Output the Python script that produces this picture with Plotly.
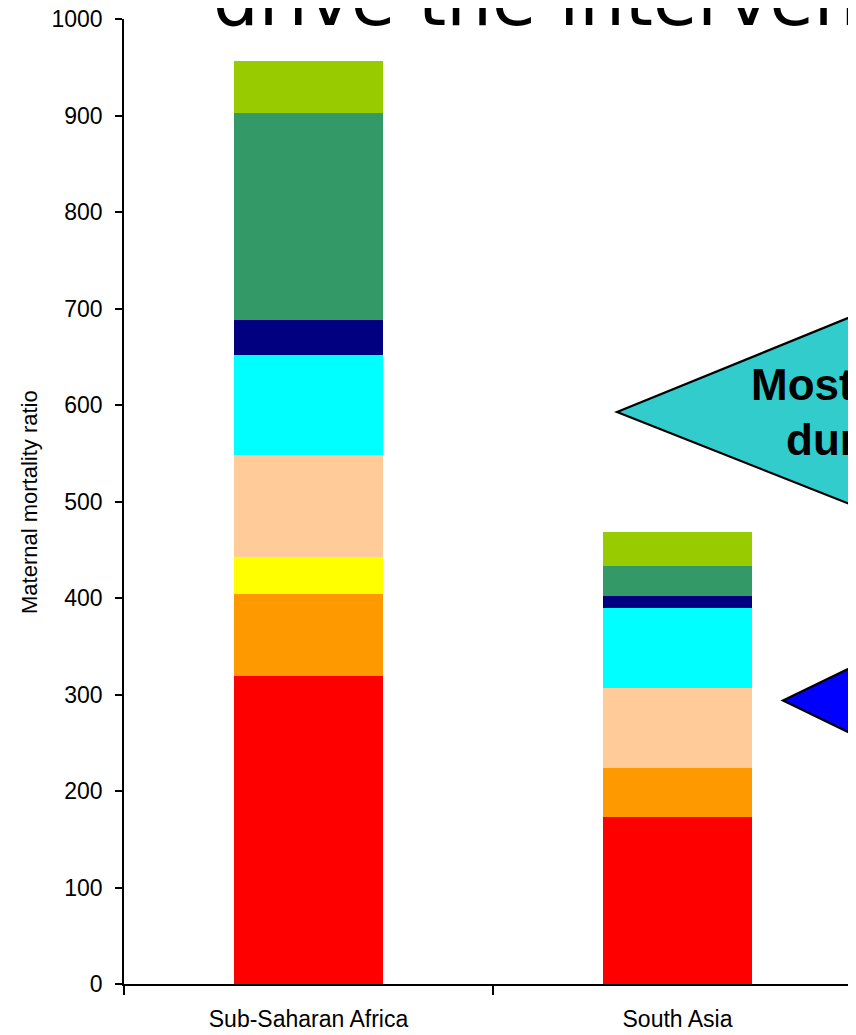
import plotly.graph_objects as go

# ---- data ----
regions = ["Sub-Saharan Africa", "South Asia"]
segment_names = ["Segment 1", "Segment 2", "Segment 3", "Segment 4",
                 "Segment 5", "Segment 6", "Segment 7", "Segment 8"]
segment_colors = ["#FF0000", "#FF9900", "#FFFF00", "#FFCC99",
                  "#00FFFF", "#000080", "#339966", "#99CC00"]
# stacked values (bottom to top) per region
ssa_values = [319, 85, 38, 106, 104, 36, 215, 53]
sa_values = [173, 51, 0, 83, 83, 12, 31, 35]
y_ticks = [0, 100, 200, 300, 400, 500, 600, 700, 800, 900, 1000]

title_text = "drive the interventions"
callout_line1 = "Most"
callout_line2 = "dur"

# ---- layout geometry (screen pixels; page body has an 8px margin) ----
OFF = 8
W, H = 856 - OFF, 1035 - OFF
L, R, T, B = 124 - OFF, 0, 19 - OFF, 1035 - 984
PW, PH = W - L - R, H - T - B


def px(x):
    # screen x -> paper x
    return (x - OFF - L) / PW


def py(y):
    # screen y -> paper y
    return (H - B - (y - OFF)) / PH


FONT = "Arial, Liberation Sans, sans-serif"

fig = go.Figure()
for i, name in enumerate(segment_names):
    fig.add_trace(go.Bar(
        x=regions,
        y=[ssa_values[i], sa_values[i]],
        name=name,
        marker=dict(color=segment_colors[i], line=dict(width=0)),
        width=0.405,
        showlegend=False,
        hoverinfo="x+y+name",
    ))

shapes = [
    # teal callout (pointer part)
    dict(type="path", xref="paper", yref="paper",
         path=f"M {px(617)} {py(412)} L {px(885)} {py(303)} L {px(885)} {py(518)} Z",
         fillcolor="#33CCCC", line=dict(color="black", width=2.2), layer="above"),
    # blue arrow
    dict(type="path", xref="paper", yref="paper",
         path=f"M {px(783)} {py(700.5)} L {px(885)} {py(651)} L {px(885)} {py(750)} Z",
         fillcolor="#0000FF", line=dict(color="black", width=2.2), layer="above"),
]

annotations = [
    dict(text=title_text, xref="paper", yref="paper", x=px(211), y=py(44),
         xanchor="left", yanchor="bottom", showarrow=False,
         font=dict(family="Comic Sans MS, DejaVu Sans, sans-serif", size=72, color="black")),
    dict(text=callout_line1, xref="paper", yref="paper", x=px(749), y=py(384),
         xanchor="left", yanchor="middle", showarrow=False,
         font=dict(family=FONT, size=44, color="black", weight="bold")),
    dict(text=callout_line2, xref="paper", yref="paper", x=px(784), y=py(439),
         xanchor="left", yanchor="middle", showarrow=False,
         font=dict(family=FONT, size=44, color="black", weight="bold")),
    dict(text="Maternal mortality ratio", xref="paper", yref="paper", x=px(29), y=py(502),
         xanchor="center", yanchor="middle", textangle=-90, showarrow=False,
         font=dict(family=FONT, size=22, color="black")),
]

fig.update_layout(
    width=W, height=H,
    margin=dict(l=L, r=R, t=T, b=B, pad=0, autoexpand=False),
    barmode="stack",
    bargap=0.6,
    plot_bgcolor="white", paper_bgcolor="white",
    font=dict(family=FONT, size=23, color="black"),
    shapes=shapes,
    annotations=annotations,
    xaxis=dict(
        type="category",
        range=[-0.5, -0.5 + PW / 369.0],
        showline=True, linecolor="black", linewidth=1.5,
        ticks="outside", ticklen=9, tickcolor="black", tickwidth=1.5,
        tickson="boundaries",
        showgrid=False, zeroline=False, automargin=False,
        tickfont=dict(family=FONT, size=23, color="black"),
        ticklabelstandoff=14,
    ),
    yaxis=dict(
        range=[0, 1000],
        tickvals=y_ticks,
        showline=True, linecolor="black", linewidth=1.5,
        ticks="outside", ticklen=7, tickcolor="black", tickwidth=1.5,
        showgrid=False, zeroline=False, automargin=False,
        tickfont=dict(family=FONT, size=23, color="black"),
        ticklabelstandoff=8,
        ticklabeloverflow="allow",
    ),
)

fig.write_html("out.html")
